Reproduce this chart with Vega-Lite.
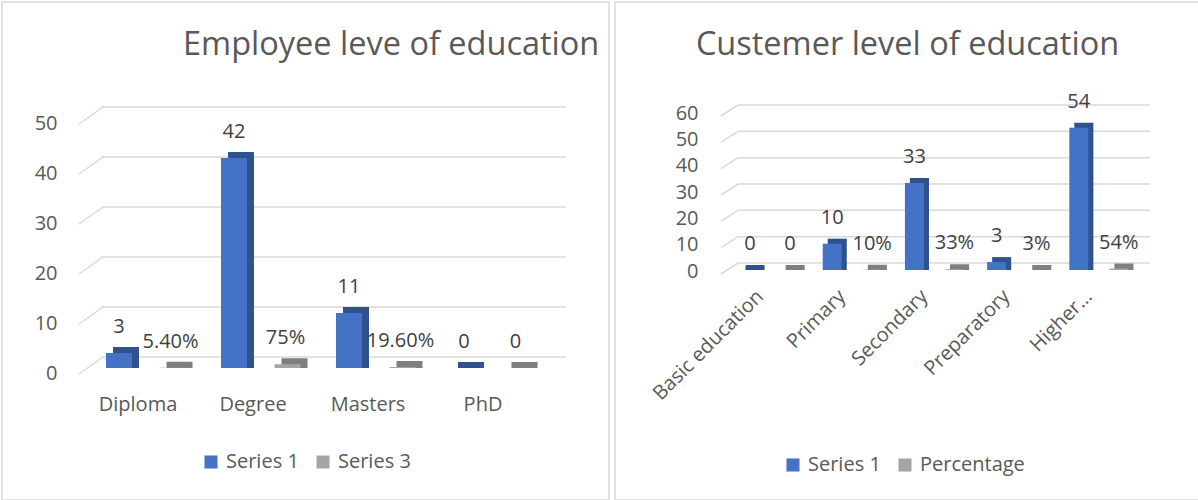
{
  "$schema": "https://vega.github.io/schema/vega-lite/v6.json",
  "padding": {"left": 1, "top": 1, "right": 0, "bottom": 0},
  "background": "white",
  "spacing": 4,
  "datasets": {
    "emp": [
      {"category": "Diploma", "series": "Series 1", "value": 3, "label": "3"},
      {"category": "Diploma", "series": "Series 3", "value": 0.054, "label": "5.40%"},
      {"category": "Degree", "series": "Series 1", "value": 42, "label": "42"},
      {"category": "Degree", "series": "Series 3", "value": 0.75, "label": "75%"},
      {"category": "Masters", "series": "Series 1", "value": 11, "label": "11"},
      {"category": "Masters", "series": "Series 3", "value": 0.196, "label": "19.60%"},
      {"category": "PhD", "series": "Series 1", "value": 0, "label": "0"},
      {"category": "PhD", "series": "Series 3", "value": 0, "label": "0"}
    ],
    "empGrid": [{"v": 0}, {"v": 10}, {"v": 20}, {"v": 30}, {"v": 40}, {"v": 50}],
    "cust": [
      {"category": "Basic education", "series": "Series 1", "value": 0, "label": "0"},
      {"category": "Basic education", "series": "Percentage", "value": 0, "label": "0"},
      {"category": "Primary", "series": "Series 1", "value": 10, "label": "10"},
      {"category": "Primary", "series": "Percentage", "value": 0.1, "label": "10%"},
      {"category": "Secondary", "series": "Series 1", "value": 33, "label": "33"},
      {"category": "Secondary", "series": "Percentage", "value": 0.33, "label": "33%"},
      {"category": "Preparatory", "series": "Series 1", "value": 3, "label": "3"},
      {"category": "Preparatory", "series": "Percentage", "value": 0.03, "label": "3%"},
      {"category": "Higher…", "series": "Series 1", "value": 54, "label": "54"},
      {"category": "Higher…", "series": "Percentage", "value": 0.54, "label": "54%"}
    ],
    "custGrid": [{"v": 0}, {"v": 10}, {"v": 20}, {"v": 30}, {"v": 40}, {"v": 50}, {"v": 60}]
  },
  "hconcat": [
    {
      "width": 607,
      "height": 498,
      "title": {"text": "Employee leve of education", "anchor": "start", "frame": "group", "dx": 181, "dy": 30, "offset": -55, "baseline": "alphabetic", "fontSize": 32.5, "font": "Open Sans", "fontWeight": "normal", "color": "#595959"},
      "layer": [
        {
          "data": {"name": "empGrid"},
          "mark": {"type": "rule", "color": "#D9D9D9", "strokeWidth": 1.5, "xOffset": 20.5, "x2Offset": 25.5, "yOffset": -11},
          "encoding": {
            "y": {"field": "v", "type": "quantitative"},
            "x": {"datum": "Diploma", "type": "nominal", "bandPosition": 0},
            "x2": {"datum": "PhD", "bandPosition": 1}
          }
        },
        {
          "data": {"name": "empGrid"},
          "mark": {"type": "rule", "color": "#D9D9D9", "strokeWidth": 1.5, "xOffset": -1.5, "x2Offset": 22.5, "yOffset": 6, "y2Offset": -11},
          "encoding": {
            "y": {"field": "v", "type": "quantitative"},
            "y2": {"field": "v"},
            "x": {"datum": "Diploma", "type": "nominal", "bandPosition": 0},
            "x2": {"datum": "Diploma", "bandPosition": 0}
          }
        },
        {
          "data": {"name": "emp"},
          "mark": {"type": "bar", "yOffset": -6},
          "encoding": {
            "x": {"field": "category", "type": "nominal", "scale": {"domain": ["Diploma", "Degree", "Masters", "PhD"], "range": [78.5, 538.5], "paddingInner": 0, "paddingOuter": 0}},
            "xOffset": {"field": "series", "type": "nominal", "scale": {"domain": ["Series 1", "Series 3"], "range": [19.1, 125.4], "paddingInner": 0.514, "paddingOuter": 0.25}},
            "y": {"field": "value", "type": "quantitative", "scale": {"domain": [0, 50], "range": [366, 116], "nice": false}},
            "y2": {"datum": 0},
            "fill": {"condition": {"test": "datum.series === 'Series 1'", "value": "#2F528F"}, "value": "#7F7F7F"}
          }
        },
        {
          "data": {"name": "emp"},
          "mark": {"type": "bar"},
          "encoding": {
            "x": {"field": "category", "type": "nominal", "scale": {"domain": ["Diploma", "Degree", "Masters", "PhD"], "range": [78.5, 538.5], "paddingInner": 0, "paddingOuter": 0},
              "axis": {"title": null, "labelAngle": 0, "labelAlign": "center", "labelBaseline": "middle", "labelFontSize": 20, "labelFont": "Open Sans", "labelColor": "#595959", "ticks": false, "domain": false, "grid": false, "offset": -101, "labelPadding": 5}},
            "xOffset": {"field": "series", "type": "nominal", "scale": {"domain": ["Series 1", "Series 3"], "range": [12.1, 118.4], "paddingInner": 0.514, "paddingOuter": 0.25}},
            "y": {"field": "value", "type": "quantitative", "scale": {"domain": [0, 50], "range": [366, 116], "nice": false},
              "axis": {"title": null, "values": [0, 10, 20, 30, 40, 50], "labelFontSize": 20, "labelFont": "Open Sans", "labelColor": "#595959", "ticks": false, "domain": false, "grid": false, "offset": -55, "labelPadding": 0, "labelOffset": 5}},
            "color": {"field": "series", "type": "nominal", "scale": {"domain": ["Series 1", "Series 3"], "range": ["#4472C4", "#A5A5A5"]},
              "legend": {"orient": "none", "legendX": 199, "legendY": 450, "direction": "horizontal", "title": null, "symbolType": "square", "symbolSize": 170, "symbolStrokeWidth": 0, "labelFontSize": 20, "labelFont": "Open Sans", "labelColor": "#595959", "columnPadding": 14, "labelOffset": 5}}
          }
        },
        {
          "data": {"name": "emp"},
          "mark": {"type": "text", "dy": -26, "baseline": "middle", "fontSize": 20, "font": "Open Sans", "color": "#404040"},
          "encoding": {
            "x": {"field": "category", "type": "nominal"},
            "xOffset": {"field": "series", "type": "nominal", "scale": {"domain": ["Series 1", "Series 3"], "range": [38.5, 90], "padding": 0}},
            "y": {"field": "value", "type": "quantitative"},
            "text": {"field": "label"}
          }
        }
      ],
      "resolve": {"scale": {"xOffset": "independent"}}
    },
    {
      "width": 585,
      "height": 498,
      "title": {"text": "Custemer level of education", "anchor": "middle", "frame": "group", "dx": 0, "dy": 32, "offset": -53, "baseline": "alphabetic", "fontSize": 32.5, "font": "Open Sans", "fontWeight": "normal", "color": "#595959"},
      "layer": [
        {
          "data": {"name": "custGrid"},
          "mark": {"type": "rule", "color": "#D9D9D9", "strokeWidth": 1.5, "xOffset": 9, "x2Offset": 10, "yOffset": -7},
          "encoding": {
            "y": {"field": "v", "type": "quantitative"},
            "x": {"datum": "Basic education", "type": "nominal", "bandPosition": 0},
            "x2": {"datum": "Higher…", "bandPosition": 1}
          }
        },
        {
          "data": {"name": "custGrid"},
          "mark": {"type": "rule", "color": "#D9D9D9", "strokeWidth": 1.5, "xOffset": -8, "x2Offset": 9, "yOffset": 4, "y2Offset": -7},
          "encoding": {
            "y": {"field": "v", "type": "quantitative"},
            "y2": {"field": "v"},
            "x": {"datum": "Basic education", "type": "nominal", "bandPosition": 0},
            "x2": {"datum": "Basic education", "bandPosition": 0}
          }
        },
        {
          "data": {"name": "cust"},
          "mark": {"type": "bar", "yOffset": -5},
          "encoding": {
            "x": {"field": "category", "type": "nominal", "scale": {"domain": ["Basic education", "Primary", "Secondary", "Preparatory", "Higher…"], "range": [114, 525], "paddingInner": 0, "paddingOuter": 0}},
            "xOffset": {"field": "series", "type": "nominal", "scale": {"domain": ["Series 1", "Percentage"], "range": [5, 87.2], "paddingInner": 0.525, "paddingOuter": 0.2875}},
            "y": {"field": "value", "type": "quantitative", "scale": {"domain": [0, 60], "range": [268, 110], "nice": false}},
            "y2": {"datum": 0},
            "fill": {"condition": {"test": "datum.series === 'Series 1'", "value": "#2F528F"}, "value": "#7F7F7F"}
          }
        },
        {
          "data": {"name": "cust"},
          "mark": {"type": "bar"},
          "encoding": {
            "x": {"field": "category", "type": "nominal", "scale": {"domain": ["Basic education", "Primary", "Secondary", "Preparatory", "Higher…"], "range": [114, 525], "paddingInner": 0, "paddingOuter": 0},
              "axis": {"title": null, "labelAngle": -45, "labelAlign": "right", "labelBaseline": "middle", "labelFontSize": 20, "labelFont": "Open Sans", "labelColor": "#595959", "ticks": false, "domain": false, "grid": false, "offset": -209, "labelPadding": 2, "labelOffset": -10}},
            "xOffset": {"field": "series", "type": "nominal", "scale": {"domain": ["Series 1", "Percentage"], "range": [0, 82.2], "paddingInner": 0.525, "paddingOuter": 0.2875}},
            "y": {"field": "value", "type": "quantitative", "scale": {"domain": [0, 60], "range": [268, 110], "nice": false},
              "axis": {"title": null, "values": [0, 10, 20, 30, 40, 50, 60], "labelFontSize": 20, "labelFont": "Open Sans", "labelColor": "#595959", "ticks": false, "domain": false, "grid": false, "offset": -83, "labelPadding": 0, "labelOffset": 1}},
            "color": {"field": "series", "type": "nominal", "scale": {"domain": ["Series 1", "Percentage"], "range": ["#4472C4", "#A5A5A5"]},
              "legend": {"orient": "none", "legendX": 168, "legendY": 453, "direction": "horizontal", "title": null, "symbolType": "square", "symbolSize": 170, "symbolStrokeWidth": 0, "labelFontSize": 20, "labelFont": "Open Sans", "labelColor": "#595959", "columnPadding": 14, "labelOffset": 5}}
          }
        },
        {
          "data": {"name": "cust"},
          "mark": {"type": "text", "dy": -26, "baseline": "middle", "fontSize": 20, "font": "Open Sans", "color": "#404040"},
          "encoding": {
            "x": {"field": "category", "type": "nominal"},
            "xOffset": {"field": "series", "type": "nominal", "scale": {"domain": ["Series 1", "Percentage"], "range": [21, 61], "padding": 0}},
            "y": {"field": "value", "type": "quantitative"},
            "text": {"field": "label"}
          }
        }
      ],
      "resolve": {"scale": {"xOffset": "independent"}}
    }
  ],
  "resolve": {"scale": {"color": "independent", "x": "independent", "y": "independent", "xOffset": "independent"}, "legend": {"color": "independent"}},
  "config": {
    "view": {"stroke": "#D9D9D9", "strokeWidth": 1.5},
    "font": "Open Sans"
  }
}
